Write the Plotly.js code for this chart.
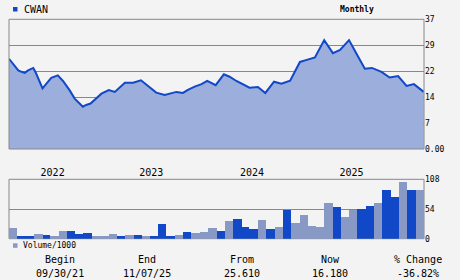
<!DOCTYPE html>
<html>
<head>
<meta charset="utf-8">
<script src="https://cdn.plot.ly/plotly-3.0.1.min.js"></script>
<style>
html,body{margin:0;padding:0;background:#f3f3f3;}
#chart{width:460px;height:280px;}
</style>
</head>
<body>
<div id="chart"></div>
<script>
var ticker = 'CWAN';
var priceDates = ['2021-10-01','2021-10-11','2021-10-23','2021-11-04','2021-11-16','2021-11-28','2021-12-10','2021-12-29',
  '2022-01-07','2022-01-17','2022-02-01','2022-02-16','2022-03-05','2022-03-29','2022-04-17','2022-05-11','2022-05-30',
  '2022-06-29','2022-07-11','2022-07-27','2022-09-05','2022-10-02','2022-10-24','2022-11-30','2022-12-30',
  '2023-01-28','2023-02-12','2023-03-01','2023-03-25','2023-04-25','2023-05-19','2023-06-07','2023-07-01','2023-07-19',
  '2023-08-13','2023-09-07','2023-09-28','2023-10-29','2023-11-28','2023-12-19',
  '2024-01-13','2024-02-07','2024-03-01','2024-04-01','2024-04-28','2024-05-30','2024-06-26','2024-07-28',
  '2024-08-14','2024-09-02','2024-09-27','2024-10-27','2024-11-30',
  '2025-01-01','2025-01-27','2025-03-01','2025-03-28','2025-04-28','2025-05-24','2025-06-28','2025-07-28',
  '2025-08-28','2025-09-28','2025-10-25','2025-11-30'];
var priceValues = [25.6,24.7,23.5,22.3,21.9,21.6,22.3,23.0,
  21.7,20.0,17.2,18.6,20.2,20.9,19.3,16.7,14.3,
  12.0,12.5,12.9,15.7,16.7,16.2,18.8,18.8,
  19.5,18.6,17.4,16.0,15.3,15.9,16.2,15.9,16.8,
  17.7,18.4,19.3,18.1,21.2,20.5,
  19.3,18.3,17.4,17.6,15.9,19.1,18.5,19.4,
  21.9,24.7,25.3,26.0,30.9,
  27.2,28.1,30.9,27.1,22.8,23.0,21.9,20.3,
  20.7,17.9,18.4,16.2];

var months = ['2021-10','2021-11','2021-12',
  '2022-01','2022-02','2022-03','2022-04','2022-05','2022-06','2022-07','2022-08','2022-09','2022-10','2022-11','2022-12',
  '2023-01','2023-02','2023-03','2023-04','2023-05','2023-06','2023-07','2023-08','2023-09','2023-10','2023-11','2023-12',
  '2024-01','2024-02','2024-03','2024-04','2024-05','2024-06','2024-07','2024-08','2024-09','2024-10','2024-11','2024-12',
  '2025-01','2025-02','2025-03','2025-04','2025-05','2025-06','2025-07','2025-08','2025-09','2025-10','2025-11'];
var volumes = [20,5,5,8.6,6.8,5,14,14,8.6,10.4,5,5,8.6,5,6.8,6.8,5,5,27,5,
  6.8,12.3,10.4,12.3,19.6,14,32.4,36,21.4,17.8,34.2,17.8,21.4,52.5,28.7,43.4,23.3,21.4,65,58,
  39.7,52.5,54.4,60,65,89,76,104,89,89];
var volumeShade = ['L','D','D','L','D','L','L','D','D','D','L','L','L','D','L','D','L','D','D','D',
  'L','D','L','L','L','D','L','D','D','D','L','D','L','D','L','L','L','L','L','D',
  'L','L','D','D','L','D','D','L','D','L'];

var priceTickVals = [0,7.36,14.72,22.08,29.44,36.8];
var priceTickText = ['0.00','7','14','22','29','37'];
var volTickVals = [0,54,108];
var volTickText = ['0','54','108'];
var yearTickVals = ['2022-03-10','2023-03-07','2024-03-10','2025-03-10'];
var yearTickText = ['2022','2023','2024','2025'];

var summaryLabels = ['Begin','End','From','Now','% Change'];
var summaryValues = ['09/30/21','11/07/25','25.610','16.180','-36.82%'];

var DARK = '#1148c8', LIGHT = '#8899c6', FILL = '#9caedc', GRID = '#888888';
var MONO = 'DejaVu Sans Mono, monospace';

var widths = months.map(function(m){
  var p = m.split('-'); var y = +p[0], mo = +p[1];
  return new Date(y, mo, 0).getDate() * 86400000;
});

var traces = [
  {type:'scatter', mode:'lines', x:priceDates, y:priceValues, fill:'tozeroy',
   fillcolor:FILL, line:{color:DARK, width:2}, xaxis:'x', yaxis:'y', hoverinfo:'skip'},
  {type:'bar', x:months, y:volumes, xperiod:'M1', xperiodalignment:'middle', width:widths,
   marker:{color:volumeShade.map(function(s){return s==='D'?DARK:LIGHT;}), line:{width:0}},
   xaxis:'x', yaxis:'y2', hoverinfo:'skip'}
];

var xd = [9/460, 424/460];
var ann = [
  {xref:'paper', yref:'paper', x:22/460, y:1-9/280, text:ticker, showarrow:false, xanchor:'left', yanchor:'middle', font:{family:MONO, size:10, color:'#000'}},
  {xref:'paper', yref:'paper', x:357/460, y:1-9/280, text:'<b>Monthly</b>', showarrow:false, xanchor:'center', yanchor:'middle', font:{family:MONO, size:8, color:'#000'}},
  {xref:'paper', yref:'paper', x:21/460, y:1-245.5/280, text:'Volume/1000', showarrow:false, xanchor:'left', yanchor:'middle', font:{family:MONO, size:8, color:'#000'}}
];
var colX = [60, 147, 242, 330, 418];
for (var i = 0; i < summaryLabels.length; i++) {
  ann.push({xref:'paper', yref:'paper', x:colX[i]/460, y:1-259.5/280, text:summaryLabels[i], showarrow:false, xanchor:'center', yanchor:'middle', font:{family:MONO, size:10, color:'#000'}});
  ann.push({xref:'paper', yref:'paper', x:colX[i]/460, y:1-273.5/280, text:summaryValues[i], showarrow:false, xanchor:'center', yanchor:'middle', font:{family:MONO, size:10, color:'#000'}});
}

var layout = {
  width:460, height:280, margin:{l:0, r:0, t:0, b:0},
  paper_bgcolor:'#f3f3f3', plot_bgcolor:'#f3f3f3', showlegend:false, bargap:0,
  xaxis:{type:'date', domain:xd, range:['2021-10-01','2025-12-01'], anchor:'y2', side:'top',
    tickmode:'array', tickvals:yearTickVals, ticktext:yearTickText, ticks:'', showgrid:false,
    showline:false, zeroline:false, tickfont:{family:MONO, size:10, color:'#000'}},
  yaxis:{domain:[1-149/280, 1-19.3/280], range:[0,36.8], side:'right', anchor:'x',
    tickmode:'array', tickvals:priceTickVals, ticktext:priceTickText, ticks:'',
    showgrid:true, gridcolor:GRID, gridwidth:1, zeroline:false, showline:false,
    tickfont:{family:MONO, size:8, color:'#000'}},
  yaxis2:{domain:[1-238.7/280, 1-179.3/280], range:[0,108], side:'right', anchor:'x',
    tickmode:'array', tickvals:volTickVals, ticktext:volTickText, ticks:'',
    showgrid:true, gridcolor:GRID, gridwidth:1, zeroline:false, showline:false,
    tickfont:{family:MONO, size:8, color:'#000'}},
  shapes:[
    {type:'rect', xref:'paper', yref:'paper', x0:xd[0], x1:xd[1], y0:1-149/280, y1:1-19.3/280, line:{color:GRID, width:1}, layer:'above'},
    {type:'rect', xref:'paper', yref:'paper', x0:xd[0], x1:xd[1], y0:1-238.7/280, y1:1-179.3/280, line:{color:GRID, width:1}, layer:'below'},
    {type:'rect', xref:'paper', yref:'paper', x0:13/460, x1:17.5/460, y0:1-11.5/280, y1:1-7/280, fillcolor:DARK, line:{width:0}},
    {type:'rect', xref:'paper', yref:'paper', x0:13/460, x1:17.5/460, y0:1-247.8/280, y1:1-243.3/280, fillcolor:LIGHT, line:{width:0}}
  ],
  annotations:ann
};

Plotly.newPlot('chart', traces, layout, {displayModeBar:false, staticPlot:true});
</script>
</body>
</html>
